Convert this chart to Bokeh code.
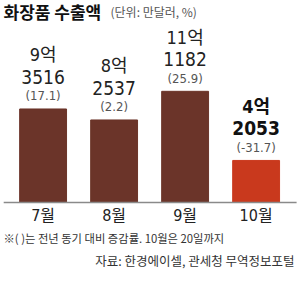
from bokeh.plotting import figure
from bokeh.models import ColumnDataSource, Range1d, Label
from bokeh.core.properties import value
from bokeh.embed import file_html
from bokeh.resources import INLINE

# ---- data ----
months = ["7월", "8월", "9월", "10월"]
values = [93516, 82537, 111182, 42053]          # 만달러
eok_labels = ["9억", "8억", "11억", "4억"]
man_labels = ["3516", "2537", "1182", "2053"]
pct_changes = [17.1, 2.2, 25.9, -31.7]
bar_colors = ["#6B3429", "#6B3429", "#6B3429", "#C9391D"]
label_colors = ["#222222", "#222222", "#222222", "#111111"]
label_styles = ["normal", "normal", "normal", "bold"]

xs = list(range(len(months)))
src = ColumnDataSource(dict(
    x=xs, top=values, color=bar_colors, month=months,
    eok=eok_labels, man=man_labels,
    pct=["(%.1f)" % v for v in pct_changes],
    lcolor=label_colors, lstyle=label_styles,
    zero=[0] * len(xs),
))

W, H = 300, 293
p = figure(width=W, height=H, output_backend="svg", toolbar_location=None,
           x_range=Range1d(-0.6, 3.625), y_range=Range1d(-91000, 202000),
           min_border=0, x_axis_location=None, y_axis_location=None,
           background_fill_color="white", border_fill_color="white")
p.outline_line_color = None
p.grid.visible = False

NARROW = value("'Liberation Sans Narrow', 'DejaVu Sans Condensed', 'Noto Sans CJK KR', sans-serif")
KRF = "'Noto Sans CJK KR', sans-serif"

p.vbar(x="x", top="top", bottom=0, width=0.66, color="color", source=src)

# baseline
p.segment(x0=[xs[0] - 0.555], x1=[xs[-1] + 0.57], y0=[0], y1=[0],
          line_color="#8a8a8a", line_width=1.5)

# value labels
p.text(x="x", y="top", text="eok", source=src, text_align="center",
       text_baseline="middle", y_offset=-54, text_font=NARROW,
       text_font_size="18px", text_color="lcolor", text_font_style="lstyle")
p.text(x="x", y="top", text="man", source=src, text_align="center",
       text_baseline="middle", y_offset=-32, text_font=NARROW,
       text_font_size="19px", text_color="lcolor", text_font_style="lstyle")
p.text(x="x", y="top", text="pct", source=src, text_align="center",
       text_baseline="middle", y_offset=-13, text_font=NARROW,
       text_font_size="13px", text_color="#555555")

# month labels
p.text(x="x", y="zero", text="month", source=src, text_align="center",
       text_baseline="middle", y_offset=13, text_font=NARROW,
       text_font_size="16px", text_color="#222222")

# title + notes
p.add_layout(Label(x=3, y=H - 11, x_units="screen", y_units="screen",
                   text="화장품 수출액", text_font=KRF,
                   text_font_size="17px", text_font_style="bold",
                   text_baseline="middle", text_color="#111111"))
p.add_layout(Label(x=110, y=H - 11, x_units="screen", y_units="screen",
                   text="(단위: 만달러, %)", text_font=KRF,
                   text_font_size="12px", text_baseline="middle", text_color="#555555"))
p.add_layout(Label(x=3, y=H - 237, x_units="screen", y_units="screen",
                   text="※( )는 전년 동기 대비 증감률. 10월은 20일까지",
                   text_font=KRF,
                   text_font_size="11.3px", text_baseline="middle", text_color="#333333"))
p.add_layout(Label(x=294, y=H - 260, x_units="screen", y_units="screen",
                   text="자료: 한경에이셀, 관세청 무역정보포털",
                   text_font=KRF,
                   text_font_size="12.5px", text_baseline="middle", text_align="right",
                   text_color="#333333"))

open("out.html", "w").write(file_html(p, INLINE))
